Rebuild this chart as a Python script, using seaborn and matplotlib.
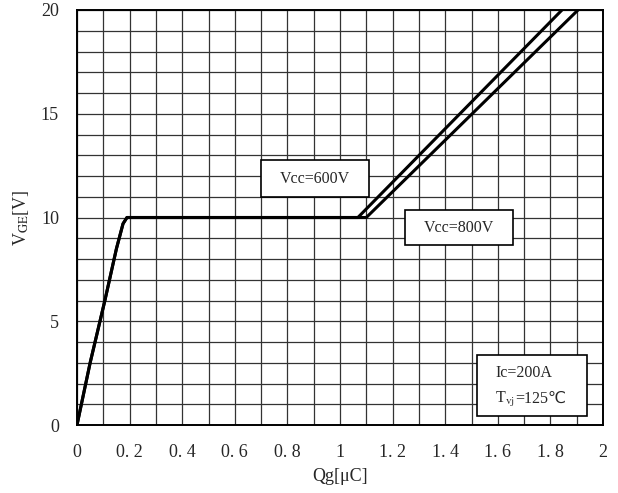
import numpy as np
import pandas as pd
import matplotlib
matplotlib.use("Agg")
import matplotlib.pyplot as plt
import seaborn as sns
from matplotlib.patches import Rectangle

# gate charge curves
qg_600 = [0, 0.05, 0.106, 0.15, 0.175, 0.19, 1.068, 1.844]
vge_600 = [0, 3, 6, 8.5, 9.7, 10, 10, 20]
qg_800 = [0, 0.05, 0.106, 0.15, 0.175, 0.19, 1.10, 1.905]
vge_800 = [0, 3, 6, 8.5, 9.7, 10, 10, 20]

x_ticks = [0, 0.2, 0.4, 0.6, 0.8, 1.0, 1.2, 1.4, 1.6, 1.8, 2.0]
x_labels = ["0", "0. 2", "0. 4", "0. 6", "0. 8", "1", "1. 2", "1. 4", "1. 6", "1. 8", "2"]
y_ticks = [0, 5, 10, 15, 20]

df = pd.concat([
    pd.DataFrame({"qg": qg_600, "vge": vge_600, "series": "600V"}),
    pd.DataFrame({"qg": qg_800, "vge": vge_800, "series": "800V"}),
])

sns.set_style("white")
plt.rcParams["font.family"] = ["Liberation Serif", "DejaVu Sans"]
plt.rcParams["mathtext.fontset"] = "stix"

fig = plt.figure(figsize=(6.18, 4.93), dpi=100)
ax = fig.add_axes([77 / 618, 1 - 425 / 493, 526 / 618, 415 / 493])

sns.lineplot(data=df, x="qg", y="vge", units="series", estimator=None,
             sort=False, color="black", lw=2.2, ax=ax)

ax.set_xlim(0, 2)
ax.set_ylim(0, 20)
ax.set_xticks(x_ticks)
ax.set_xticklabels(x_labels)
ax.set_xticks(np.arange(0, 2.01, 0.1), minor=True)
ax.set_yticks(y_ticks)
ax.set_yticks(np.arange(0, 21, 1), minor=True)
ax.grid(which="both", color="#333333", lw=0.9)
ax.tick_params(which="both", length=0)
ax.tick_params(axis="x", pad=14, labelsize=13)
ax.tick_params(axis="y", pad=13, labelsize=13)
for s in ax.spines.values():
    s.set_color("black")
    s.set_linewidth(1.4)

ax.set_xlabel("Qg[μC]", fontsize=13, labelpad=5)
ax.set_ylabel(r"V$_{\mathrm{GE}}$[V]", fontsize=13, labelpad=7)

# annotation boxes
for (x0, y0, w, h) in [(0.70, 11.0, 0.41, 1.75), (1.247, 8.67, 0.411, 1.69),
                       (1.52, 0.43, 0.42, 2.94)]:
    ax.add_patch(Rectangle((x0, y0), w, h, fc="white", ec="black", lw=1.2, zorder=5))

ax.text(0.905, 11.85, "Vcc=600V", ha="center", va="center", fontsize=11.5, zorder=6)
ax.text(1.452, 9.5, "Vcc=800V", ha="center", va="center", fontsize=11.5, zorder=6)
ax.text(1.59, 2.5, "Ic=200A", ha="left", va="center", fontsize=11.5, zorder=6)
t = ax.text(1.59, 1.25, r"T$_{\mathrm{vj}}$", ha="left", va="center", fontsize=11.5, zorder=6)
ax.annotate("=125℃", xy=(1, 0.5), xycoords=t, ha="left", va="center",
            fontsize=11.5, family=["Liberation Serif", "DejaVu Sans"], zorder=6)

fig.savefig("out.png", dpi=100)
